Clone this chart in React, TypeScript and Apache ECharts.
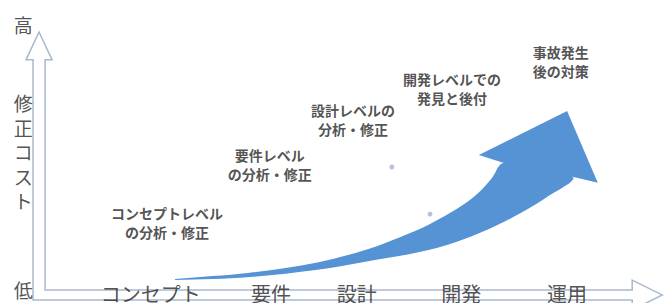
import React, { useEffect, useRef } from "react";
import * as echarts from "echarts";

// Phase labels along the time axis
const phases = ["コンセプト", "要件", "設計", "開発", "運用"];
const phaseX = [16.9, 36.1, 49.8, 66.5, 83.4];
const phaseY = -1.5;

// Annotations per phase
const notes = [
  "コンセプトレベル\nの分析・修正",
  "要件レベル\nの分析・修正",
  "設計レベルの\n分析・修正",
  "開発レベルでの\n発見と後付",
  "事故発生\n後の対策",
];
const noteX = [19.5, 35.9, 49.2, 65.0, 82.4];
const noteY = [26.0, 48.3, 65.4, 77.3, 87.7];

// Y-axis labels (vertical title is stacked one character per row)
const costEnds = ["高", "低"];
const costEndY = [101.9, 0];
const costTitle = ["修", "正", "コ", "ス", "ト"];
const costTitleY = [72.0, 62.6, 53.2, 43.8, 34.4];
const costLabelX = -3.5;

// Small dots
const dots = [
  [55.4, 47.3],
  [61.5, 29.2],
];

// Rising cost arrow: curved body (upper edge tail->neck, lower edge neck->tail)
const arrowBody = [
  [20.8, 4.2],
  [32.7, 6.6],
  [43.5, 10.6],
  [51.4, 15.6],
  [56.7, 20.3],
  [61.5, 25.4],
  [66.0, 31.5],
  [69.2, 37.3],
  [71.4, 43.1],
  [73.3, 48.8],
  [84.3, 43.5],
  [80.2, 35.8],
  [74.8, 28.1],
  [69.5, 22.0],
  [64.2, 17.3],
  [58.3, 13.8],
  [51.4, 11.0],
  [43.5, 7.8],
  [32.7, 5.0],
  [20.8, 3.8],
];
// Arrow head: left barb, tip, right barb, lower neck, upper neck
const arrowHead = [
  [69.3, 51.9],
  [83.4, 68.8],
  [88.3, 41.2],
  [84.3, 43.5],
  [73.3, 48.8],
];

// Hollow block-arrow axes outline
const axisOutline = [
  [-0.96, 99.2],
  [1.12, 88.5],
  [0, 88.5],
  [0, 0],
  [93.8, 0],
  [93.8, 3.8],
  [98.6, -1.9],
  [93.8, -7.7],
  [93.8, -3.8],
  [-1.92, -3.8],
  [-1.92, 88.5],
  [-3.04, 88.5],
];

const FONT = '"Noto Sans CJK JP", "Noto Sans", sans-serif';

export default function App() {
  const ref = useRef<HTMLDivElement>(null);
  useEffect(() => {
    if (!ref.current) return;
    const chart = echarts.init(ref.current, null, { renderer: "svg" });
    const polySeries = (pts: number[][], style: any, z: number, smooth = 0) => ({
      type: "custom",
      clip: false,
      z,
      silent: true,
      data: [pts[0]],
      renderItem: (params: any, api: any) => {
        const points = pts.map((p) => api.coord(p));
        return { type: "polygon", shape: { points, smooth }, style };
      },
    });
    const labelSeries = (
      items: { value: number[]; name: string }[],
      fontSize: number,
      lineHeight: number,
      fontWeight: string,
      z: number
    ) => ({
      type: "scatter",
      z,
      silent: true,
      symbol: "circle",
      symbolSize: 1,
      itemStyle: { color: "rgba(0,0,0,0)" },
      label: {
        show: true,
        position: "inside",
        formatter: "{b}",
        fontFamily: FONT,
        fontSize,
        lineHeight,
        fontWeight,
        color: "#262626",
        align: "center",
        verticalAlign: "middle",
      },
      data: items,
    });
    chart.setOption({
      animation: false,
      backgroundColor: "#ffffff",
      grid: { left: 0, right: 0, top: 0, bottom: 0 },
      xAxis: { type: "value", min: -7.2, max: 100, show: false },
      yAxis: { type: "value", min: -5, max: 111.5, show: false },
      series: [
        polySeries(
          axisOutline,
          { fill: "none", stroke: "#a8b9cd", lineWidth: 1.5 },
          1
        ),
        polySeries(arrowBody, { fill: "#5593d5" }, 2, 0.35),
        polySeries(arrowHead, { fill: "#5593d5" }, 2),
        {
          type: "scatter",
          z: 3,
          silent: true,
          symbolSize: 5,
          itemStyle: { color: "#a9afd9" },
          data: dots,
        },
        labelSeries(
          phases.map((n, i) => ({ value: [phaseX[i], phaseY], name: n })),
          20,
          24,
          "normal",
          4
        ),
        labelSeries(
          notes.map((n, i) => ({ value: [noteX[i], noteY[i]], name: n })),
          14,
          19,
          "bold",
          4
        ),
        labelSeries(
          costEnds
            .map((n, i) => ({ value: [costLabelX, costEndY[i]], name: n }))
            .concat(
              costTitle.map((n, i) => ({ value: [costLabelX, costTitleY[i]], name: n }))
            ),
          19,
          22,
          "normal",
          4
        ),
      ],
    });
    return () => chart.dispose();
  }, []);
  return (
    <div
      ref={ref}
      style={{ position: "fixed", left: 0, top: 0, width: 671, height: 303 }}
    />
  );
}
